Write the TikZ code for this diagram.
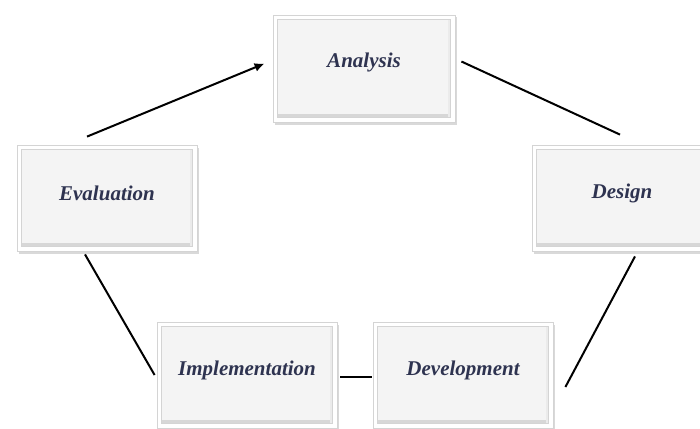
\documentclass[tikz,border=0pt]{standalone}
\usepackage{fontspec}
\setmainfont{Liberation Serif}
\usetikzlibrary{arrows.meta,shadows}
\definecolor{txtc}{HTML}{2E3350}
\definecolor{innerc}{HTML}{F4F4F4}
\definecolor{edgec}{HTML}{D4D4D4}
\definecolor{bevc}{HTML}{8E8E8E}
\tikzset{
  outerbox/.style={draw=edgec, line width=0.8pt, fill=white, minimum width=180pt, minimum height=106pt, inner sep=0pt,
    drop shadow={opacity=0.3, shadow xshift=1.5pt, shadow yshift=-2.5pt}},
  lbl/.style={font=\fontsize{21}{23}\selectfont\bfseries\itshape, text=txtc, inner sep=0pt},
  conn/.style={line width=2pt, black},
}
\newcommand{\bevelbox}[1]{%
  \fill[innerc] ([shift={(5,5)}]#1.north west) rectangle ([shift={(-5,-5)}]#1.south east);
  \fill[bevc!35] ([shift={(5,-8)}]#1.south west) rectangle ([shift={(-5,-5)}]#1.south east);
  \fill[bevc!18] ([shift={(-7,5)}]#1.north east) rectangle ([shift={(-5,-5)}]#1.south east);
  \draw[white, line width=1.5pt] ([shift={(5,-5)}]#1.south west) -- ([shift={(5,5)}]#1.north west) -- ([shift={(-5,5)}]#1.north east);
  \draw[bevc, line width=1.6pt] ([shift={(5,-5)}]#1.south west) -- ([shift={(-5,-5)}]#1.south east);
  \draw[bevc!70, line width=1pt] ([shift={(-5,-5)}]#1.south east) -- ([shift={(-5,5)}]#1.north east);
  \draw[edgec, line width=0.6pt] ([shift={(5,5)}]#1.north west) rectangle ([shift={(-5,-5)}]#1.south east);
}
\begin{document}
\begin{tikzpicture}[x=1pt,y=-1pt]
\useasboundingbox (0,0) rectangle (700,428);
\node[outerbox, minimum width=182pt, minimum height=107pt] (ana) at (364,68.5) {};
\node[outerbox] (eva) at (107,198) {};
\node[outerbox] (des) at (622,198) {};
\node[outerbox] (imp) at (247,375) {};
\node[outerbox] (dev) at (463,375) {};
\bevelbox{ana}\bevelbox{eva}\bevelbox{des}\bevelbox{imp}\bevelbox{dev}
\node[lbl] (anaT) at ([yshift=6pt]ana.center) {Analysis};
\node[lbl] (evaT) at ([yshift=5pt]eva.center) {Evaluation};
\node[lbl] (desT) at ([yshift=5pt]des.center) {Design};
\node[lbl] (impT) at ([yshift=5pt]imp.center) {Implementation};
\node[lbl] (devT) at ([yshift=5pt]dev.center) {Development};
\draw[conn, -{Latex[length=10pt,width=9pt]}] ([shift={(-20,-8)}]eva.north) -- ([shift={(-8,-5)}]ana.west);
\draw[conn] ([shift={(6,-7)}]ana.east) -- ([shift={(-2,-10)}]des.north);
\draw[conn] ([shift={(13,5)}]des.south) -- ([shift={(12,12)}]dev.east);
\draw[conn] ([shift={(-22,3)}]eva.south) -- ([shift={(-2,0)}]imp.west);
\draw[conn] ([shift={(3,2)}]imp.east) -- ([shift={(-1,2)}]dev.west);
\end{tikzpicture}
\end{document}
